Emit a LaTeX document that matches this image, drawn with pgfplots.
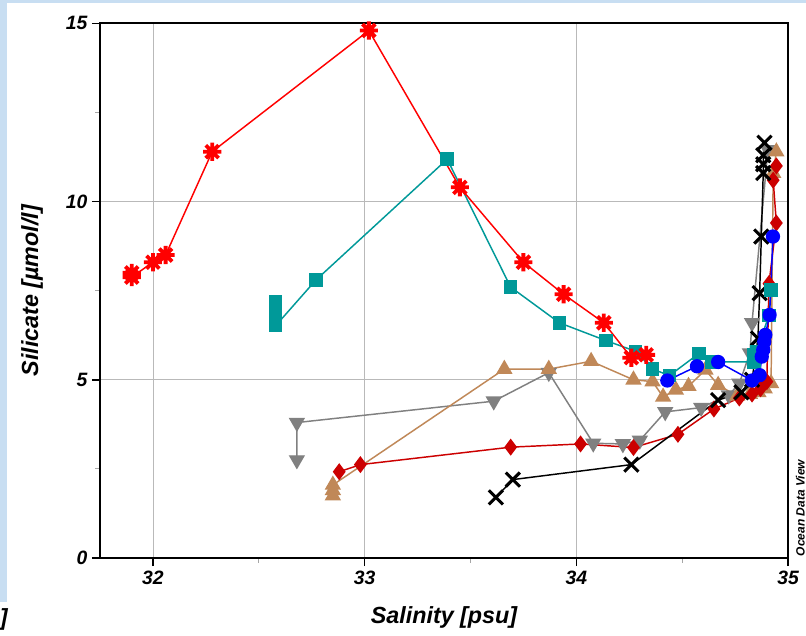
\documentclass[border=0pt]{standalone}
\usepackage{pgfplots}
\pgfplotsset{compat=1.18}
\usepackage{fontspec}
\setmainfont{Liberation Sans}
\definecolor{bgblue}{RGB}{200,222,242}
\definecolor{cgray}{RGB}{128,128,128}
\definecolor{ctan}{RGB}{192,136,88}
\definecolor{cdred}{RGB}{204,0,0}
\definecolor{cteal}{RGB}{0,153,153}
\definecolor{cred}{RGB}{255,0,0}
\definecolor{cblue}{RGB}{0,0,255}
\pgfdeclareplotmark{burst}{%
  \pgfpathcircle{\pgfpointorigin}{0.6\pgfplotmarksize}\pgfusepathqfill
  \pgfsetlinewidth{0.42\pgfplotmarksize}%
  \pgfpathmoveto{\pgfqpoint{-\pgfplotmarksize}{0pt}}\pgfpathlineto{\pgfqpoint{\pgfplotmarksize}{0pt}}%
  \pgfpathmoveto{\pgfqpoint{0pt}{-\pgfplotmarksize}}\pgfpathlineto{\pgfqpoint{0pt}{\pgfplotmarksize}}%
  \pgfpathmoveto{\pgfqpoint{-.7071\pgfplotmarksize}{-.7071\pgfplotmarksize}}\pgfpathlineto{\pgfqpoint{.7071\pgfplotmarksize}{.7071\pgfplotmarksize}}%
  \pgfpathmoveto{\pgfqpoint{-.7071\pgfplotmarksize}{.7071\pgfplotmarksize}}\pgfpathlineto{\pgfqpoint{.7071\pgfplotmarksize}{-.7071\pgfplotmarksize}}%
  \pgfusepathqstroke
}
\begin{document}
\begin{tikzpicture}
\useasboundingbox (0,0) rectangle (604.5pt,476.25pt);
\fill[bgblue] (0,0) rectangle (604.5pt,476.25pt);
\fill[white] (5.25pt,0) rectangle (604.5pt,474pt);
\fill[white] (0,0) rectangle (5.25pt,24.75pt);
\begin{scope}
\clip (0,0) rectangle (604.5pt,476.25pt);
\node[anchor=base east, inner sep=0pt, font=\fontsize{17.5}{17.5}\selectfont\bfseries\itshape] at (6pt,7.5pt) {]};
\node[rotate=90, anchor=base, font=\fontsize{9}{9}\selectfont\bfseries\itshape, inner sep=0pt] at (603.5pt,95.25pt) {Ocean Data View};
\end{scope}
\begin{axis}[
  at={(75pt,57.75pt)}, anchor=south west,
  width=516pt, height=400.95pt, scale only axis,
  xmin=31.75, xmax=35, ymin=0, ymax=15,
  xtick={32,33,34,35}, minor xtick={32.5,33.5,34.5},
  ytick={0,5,10,15}, minor ytick={2.5,7.5,12.5},
  xtick pos=left, ytick pos=left, tick align=outside,
  major tick length=6pt, minor tick length=3.5pt,
  every major tick/.style={black, line width=1.2pt},
  every minor tick/.style={gray!70, line width=0.6pt},
  grid=major, major grid style={gray!55, line width=0.6pt},
  axis line style={line width=1.6pt},
  /pgf/number format/assume math mode=true,
  ticklabel style={font=\fontsize{14.5}{14.5}\selectfont\bfseries\itshape},
  xlabel={Salinity [psu]},
  ylabel={Silicate [µmol/l]},
  label style={font=\fontsize{17.5}{17.5}\selectfont\bfseries\itshape},
  xlabel style={at={(axis description cs:0.5,-0.1216)}, anchor=base},
  ylabel style={at={(axis description cs:-0.0901,0.5)}, anchor=base},
  every axis plot/.append style={line width=1.1pt},
]
% gray, triangles down
\addplot[color=cgray, mark=triangle*, mark size=6pt, mark options={solid, rotate=180, fill=cgray}] table {
32.68 2.75
32.68 3.80
33.61 4.40
33.87 5.20
34.08 3.22
34.22 3.20
34.30 3.30
34.42 4.10
34.59 4.22
34.72 4.57
34.77 4.90
34.82 5.75
34.83 6.60
34.905 11.45
};
% tan, triangles up
\addplot[color=ctan, mark=triangle*, mark size=6pt, mark options={solid, fill=ctan}] table {
32.85 1.75
32.85 1.90
32.85 2.05
33.66 5.30
33.87 5.30
34.07 5.52
34.27 5.00
34.36 4.95
34.41 4.52
34.47 4.72
34.53 4.82
34.61 5.28
34.67 4.85
34.76 4.55
34.82 4.60
34.86 4.65
34.89 4.75
34.92 4.90
34.93 10.80
34.945 11.40
};
% dark red, diamonds
\addplot[color=cdred, mark=diamond*, mark size=5.5pt, mark options={solid, fill=cdred}] table {
32.88 2.42
32.98 2.62
33.69 3.11
34.02 3.20
34.27 3.10
34.48 3.47
34.65 4.18
34.77 4.49
34.83 4.60
34.87 4.75
34.90 4.95
34.91 7.70
34.945 9.40
34.93 10.60
34.945 11.00
};
% black, crosses
\addplot[color=black, mark=x, mark size=7.5pt, mark options={solid, line width=2.3pt}] table {
33.62 1.70
33.70 2.20
34.26 2.62
34.67 4.43
34.78 4.65
34.83 5.00
34.858 6.16
34.866 7.43
34.874 9.02
34.883 10.80
34.883 11.05
34.883 11.30
34.889 11.65
};
% teal, squares
\addplot[color=cteal, mark=square*, mark size=4.5pt, mark options={solid, fill=cteal}] table {
32.58 7.20
32.58 7.03
32.58 6.80
32.58 6.52
32.77 7.80
33.39 11.19
33.69 7.60
33.92 6.60
34.14 6.10
34.28 5.80
34.36 5.30
34.44 5.12
34.58 5.74
34.64 5.50
34.84 5.50
34.84 5.70
34.85 5.80
34.91 6.80
34.92 7.52
};
% red, asterisks
\addplot[color=cred, mark=burst, mark size=6.8pt, mark options={solid, fill=cred}] table {
31.90 8.00
31.90 7.88
32.00 8.30
32.06 8.50
32.28 11.40
33.02 14.80
33.45 10.40
33.75 8.30
33.94 7.40
34.13 6.60
34.26 5.62
34.33 5.70
};
% blue, circles
\addplot[color=cblue, mark=*, mark size=4.8pt, mark options={solid, fill=cblue}] table {
34.43 4.98
34.57 5.38
34.67 5.50
34.83 4.98
34.866 5.13
34.876 5.65
34.883 5.84
34.888 6.07
34.893 6.26
34.913 6.82
34.929 9.02
};
\end{axis}
\end{tikzpicture}
\end{document}
